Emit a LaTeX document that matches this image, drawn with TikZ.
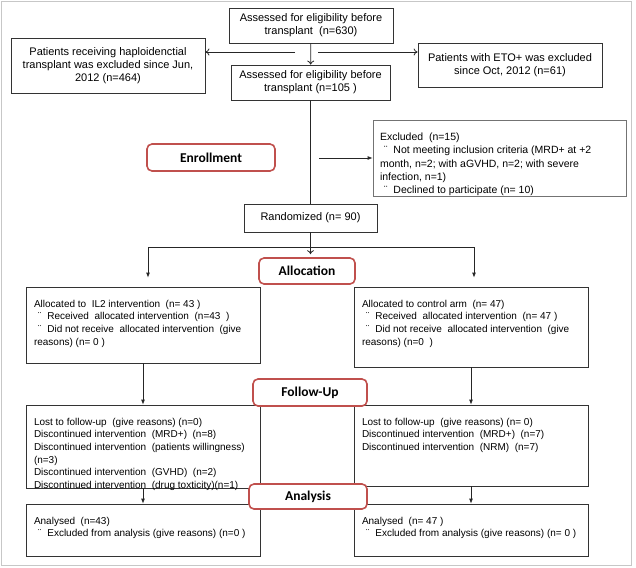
\documentclass[tikz,border=0pt]{standalone}
\usepackage{fontspec}
\setmainfont{Liberation Sans}
\newfontfamily\labelfamily{Carlito}
\usetikzlibrary{arrows.meta}
\definecolor{StageRed}{RGB}{192,80,77}
\newcommand{\topfont}{\fontsize{11}{13}\selectfont}
\newcommand{\bodyfont}{\fontsize{10}{12.6}\selectfont}
\newcommand{\exclfont}{\fontsize{10.5}{13.2}\selectfont}
\newcommand{\stagefont}{\labelfamily\bfseries\fontsize{13.5}{16}\selectfont}
\newcommand{\boxbody}[3]{\parbox[c][#1][t]{#2}{\raggedright #3}}
\newcommand{\bul}{\hspace*{4pt}¨\hspace{6pt}}
\tikzstyle{FlowBox}=[rectangle, draw=black!80, line width=0.8pt, inner sep=0pt, align=center, font=\topfont]
\tikzstyle{BodyBox}=[rectangle, draw=black!80, line width=0.8pt, inner xsep=8pt, inner ysep=13pt, font=\bodyfont]
\tikzstyle{ExclBox}=[BodyBox, draw=black!55, inner xsep=7pt, font=\exclfont]
\tikzstyle{StageBox}=[rectangle, rounded corners=5pt, draw=StageRed, line width=1.6pt, fill=white, font=\stagefont]
\tikzstyle{PlainEdge}=[line width=0.8pt, black!85]
\tikzstyle{OpenEdge}=[PlainEdge, -{To[length=4pt,width=7pt]}]
\tikzstyle{FillEdge}=[PlainEdge, -{Latex[length=5pt,width=4pt]}]

\begin{document}
\begin{tikzpicture}[x=1pt,y=-1pt]
\useasboundingbox (0,0) rectangle (636,567);
\draw[black!22, line width=1pt] (1.5,1.5) rectangle (631,565);

% screening
\node[FlowBox, minimum width=164pt, minimum height=35pt](assess) at (311,25.5) {Assessed for eligibility before\\transplant\ \ (n=630)};
\node[FlowBox, minimum width=159pt, minimum height=35pt](assessB) at (310.5,82.5) {Assessed for eligibility before\\transplant (n=105 )};
\node[FlowBox, minimum width=194pt, minimum height=55pt](haplo) at (108,65.5) {Patients receiving haploidenctial\\transplant was excluded since Jun,\\2012 (n=464)};
\node[FlowBox, minimum width=184pt, minimum height=44pt](eto) at (510,65) {Patients with ETO+ was excluded\\since Oct, 2012 (n=61)};
\coordinate (splitL) at (295,52);
\coordinate (splitR) at (318,52);

\node[ExclBox](excl) at (499.5,158) {\boxbody{50pt}{239pt}{Excluded\ \ (n=15)\\
\bul Not meeting inclusion criteria (MRD+ at +2\\
month, n=2; with aGVHD, n=2; with severe\\
infection, n=1)\\
\bul Declined to participate (n= 10)}};
\coordinate (exclGap) at (319,158);
\node[FlowBox, minimum width=133pt, minimum height=28pt](rand) at (310.5,218) {Randomized (n= 90)};

% arms
\node[BodyBox](allocL) at (143,325) {\boxbody{50pt}{218pt}{Allocated to\ \ IL2 intervention\ \ (n= 43 )\\
\bul Received\ \ allocated intervention\ \ (n=43\ \ )\\
\bul Did not receive\ \ allocated intervention\ \ (give\\
reasons) (n= 0 )}};
\node[BodyBox](allocR) at (471,327) {\boxbody{54pt}{218pt}{Allocated to control arm\ \ (n= 47)\\
\bul Received\ \ allocated intervention\ \ (n= 47 )\\
\bul Did not receive\ \ allocated intervention\ \ (give\\
reasons) (n=0\ \ )}};
\coordinate (splitA) at (148,247);
\coordinate (splitB) at (474,247);

\node[BodyBox](followL) at (143,446.5) {\boxbody{57pt}{218pt}{Lost to follow-up\ \ (give reasons) (n=0)\\
Discontinued intervention\ \ (MRD+)\ \ (n=8)\\
Discontinued intervention\ \ (patients willingness)\\
(n=3)\\
Discontinued intervention\ \ (GVHD)\ \ (n=2)\\
Discontinued intervention\ \ (drug toxticity)(n=1)}};
\node[BodyBox](followR) at (471,445.5) {\boxbody{55pt}{218pt}{Lost to follow-up\ \ (give reasons) (n= 0)\\
Discontinued intervention\ \ (MRD+)\ \ (n=7)\\
Discontinued intervention\ \ (NRM)\ \ (n=7)}};

\node[BodyBox](anaL) at (143,530) {\boxbody{26pt}{218pt}{Analysed\ \ (n=43)\\
\bul Excluded from analysis (give reasons) (n=0 )}};
\node[BodyBox](anaR) at (471,530) {\boxbody{26pt}{218pt}{Analysed\ \ (n= 47 )\\
\bul Excluded from analysis (give reasons) (n= 0 )}};

\draw[OpenEdge](assess) -- (assessB);
\draw[OpenEdge](splitL) -- (splitL -| haplo.east);
\draw[OpenEdge](splitR) -- (splitR -| eto.west);
\draw[PlainEdge](assessB) -- (rand);
\draw[FillEdge](exclGap) -- (exclGap -| excl.west);
\draw[PlainEdge](splitA) -- (splitB);
\draw[FillEdge, shorten >=9pt](splitA) -- (splitA |- allocL.north);
\draw[FillEdge, shorten >=9pt](splitB) -- (splitB |- allocR.north);
\draw[FillEdge](allocL) -- (followL);
\draw[FillEdge](allocR) -- (followR);
\draw[FillEdge](followL) -- (anaL);
\draw[FillEdge](followR) -- (anaR);

% stage labels
\node[StageBox, minimum width=128pt, minimum height=27pt](enroll) at (211,157.5) {Enrollment};
\node[StageBox, minimum width=96pt, minimum height=26pt](alloc) at (307,271) {Allocation};
\draw[OpenEdge, shorten >=3pt](rand) -- (rand |- alloc.north);
\node[StageBox, minimum width=114pt, minimum height=27pt](follow) at (310,392.5) {Follow-Up};
\node[StageBox, minimum width=118pt, minimum height=25pt](analysis) at (308,496.5) {Analysis};
\end{tikzpicture}
\end{document}
